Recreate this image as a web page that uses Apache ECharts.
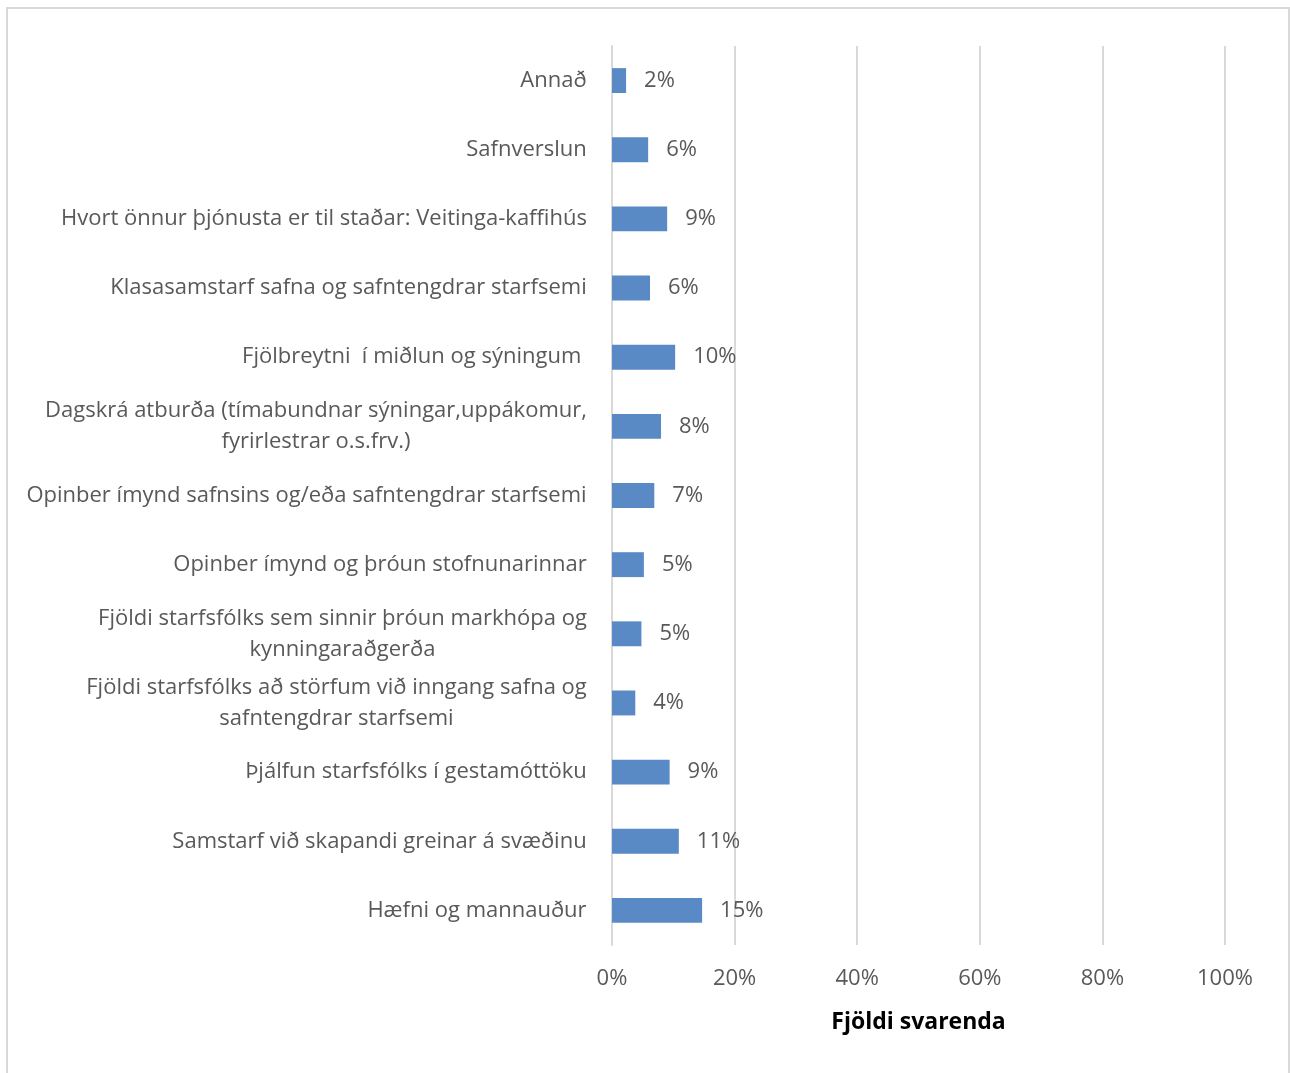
<!DOCTYPE html>
<html>
<head>
<meta charset="utf-8">
<script src="https://cdn.jsdelivr.net/npm/echarts@6/dist/echarts.min.js"></script>
<style>
  html, body { margin: 0; padding: 0; background: #fff; }
  #chart { width: 1290px; height: 1073px; }
</style>
</head>
<body>
<div id="chart"></div>
<script>
const categories = [
  'Annað',
  'Safnverslun',
  'Hvort önnur þjónusta er til staðar: Veitinga-kaffihús',
  'Klasasamstarf safna og safntengdrar starfsemi',
  'Fjölbreytni  í miðlun og sýningum ',
  'Dagskrá atburða (tímabundnar sýningar,uppákomur,\nfyrirlestrar o.s.frv.)',
  'Opinber ímynd safnsins og/eða safntengdrar starfsemi',
  'Opinber ímynd og þróun stofnunarinnar',
  'Fjöldi starfsfólks sem sinnir þróun markhópa og\nkynningaraðgerða',
  'Fjöldi starfsfólks að störfum við inngang safna og\nsafntengdrar starfsemi',
  'Þjálfun starfsfólks í gestamóttöku',
  'Samstarf við skapandi greinar á svæðinu',
  'Hæfni og mannauður'
];
const values = [2.3, 5.9, 9.0, 6.2, 10.3, 8.0, 6.9, 5.2, 4.8, 3.8, 9.4, 10.9, 14.7];
const tickValues = [0, 20, 40, 60, 80, 100];
const axisTitle = 'Fjöldi svarenda';

const FONT = '"Open Sans"';
const FS = 22;
const textColor = '#595959';

// measure text to center wrapped lines in a right-aligned block
const ctx = document.createElement('canvas').getContext('2d');
ctx.font = FS + 'px ' + FONT;
const rich = {};
categories.forEach((c, i) => {
  const lines = c.split('\n');
  const w = Math.max(...lines.map(l => ctx.measureText(l).width));
  rich['c' + i] = { width: Math.ceil(w), align: 'center', fontFamily: FONT, fontSize: FS, color: textColor, lineHeight: 31 };
});

const chart = echarts.init(document.getElementById('chart'), null, { renderer: 'canvas' });
chart.setOption({
  animation: false,
  backgroundColor: '#ffffff',
  textStyle: { fontFamily: FONT },
  graphic: [{
    type: 'rect',
    shape: { x: 7, y: 8, width: 1282, height: 1080 },
    style: { fill: 'none', stroke: '#d9d9d9', lineWidth: 2 },
    silent: true
  }],
  grid: { left: 612, right: 65, top: 46, bottom: 128, containLabel: false },
  xAxis: {
    type: 'value',
    min: 0,
    max: 100,
    interval: 20,
    axisLine: { show: false },
    axisTick: { show: false },
    splitLine: { show: true, lineStyle: { color: '#d9d9d9', width: 2 } },
    axisLabel: {
      formatter: v => tickValues.includes(v) ? v + '%' : '',
      color: textColor, fontFamily: FONT, fontSize: FS, margin: 23
    },
    name: axisTitle,
    nameLocation: 'middle',
    nameGap: 66,
    nameTextStyle: { color: '#000000', fontWeight: 'bold', fontFamily: FONT, fontSize: 23 }
  },
  yAxis: {
    type: 'category',
    inverse: true,
    data: categories,
    axisLine: { show: true, lineStyle: { color: '#d9d9d9', width: 2 } },
    axisTick: { show: false },
    axisLabel: {
      margin: 25,
      align: 'right',
      formatter: (val, idx) => val.split('\n').map(l => '{c' + idx + '|' + l + '}').join('\n'),
      rich: rich,
      color: textColor, fontFamily: FONT, fontSize: FS
    }
  },
  series: [{
    type: 'bar',
    data: values,
    barCategoryGap: '64%',
    itemStyle: { color: '#5A8AC6' },
    label: {
      show: true,
      position: 'right',
      distance: 18,
      formatter: p => Math.round(p.value) + '%',
      color: textColor, fontFamily: FONT, fontSize: FS
    }
  }]
});
</script>
</body>
</html>
